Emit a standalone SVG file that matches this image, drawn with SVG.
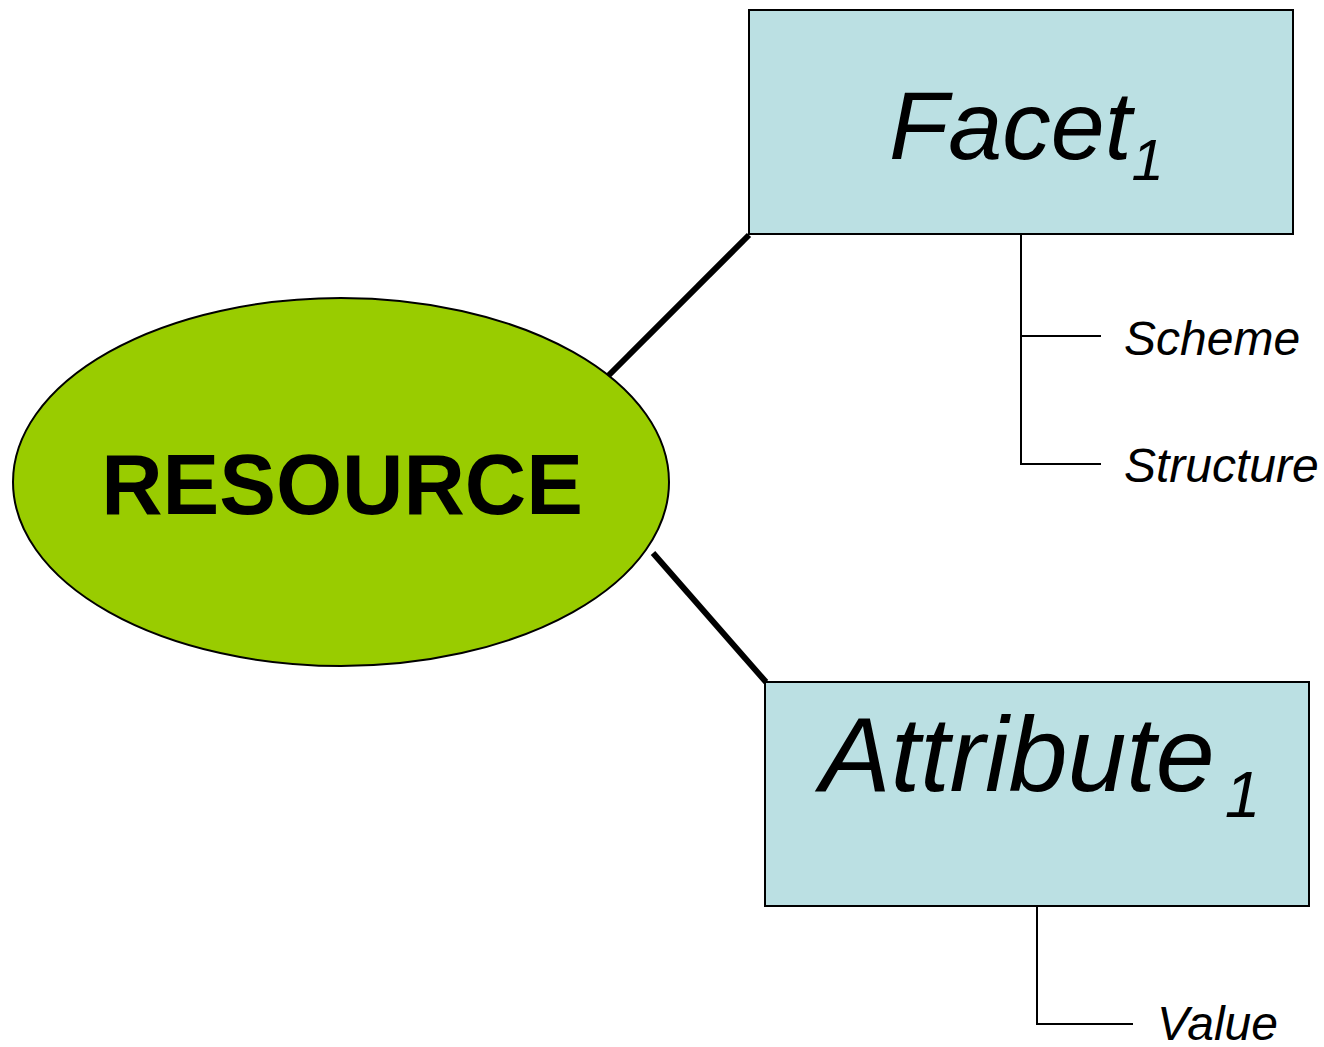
<svg xmlns="http://www.w3.org/2000/svg" width="1324" height="1047" viewBox="0 0 1324 1047">
<style>
.box{fill:#BBE0E3;stroke:#000;stroke-width:2}
.conn{stroke:#000;stroke-width:6;fill:none}
.tree{stroke:#000;stroke-width:2;fill:none}
.lbl{font-family:"Liberation Sans",Arial,sans-serif;font-style:italic;fill:#000}
</style>
<rect width="1324" height="1047" fill="#fff"/>
<g id="connectors">
<line class="conn" x1="607" y1="377" x2="749" y2="235"/>
<line class="conn" x1="653" y1="553" x2="766" y2="682"/>
<polyline class="tree" points="1021,234 1021,464 1101,464"/>
<line class="tree" x1="1021" y1="336" x2="1101" y2="336"/>
<polyline class="tree" points="1037,906 1037,1024 1133,1024"/>
</g>
<g id="resource">
<ellipse cx="341" cy="482" rx="328" ry="184" fill="#99CC00" stroke="#000" stroke-width="2"/>
<text x="342" y="514" text-anchor="middle" font-family="Liberation Sans,Arial,sans-serif" font-weight="bold" font-size="85">RESOURCE</text>
</g>
<g id="facet">
<rect class="box" x="749" y="10" width="544" height="224"/>
<text class="lbl" x="889" y="159" font-size="97">Facet<tspan font-size="58" y="180">1</tspan></text>
</g>
<g id="attribute">
<rect class="box" x="765" y="682" width="544" height="224"/>
<text class="lbl" x="820" y="791" font-size="106">Attribute<tspan font-size="64" dx="10" y="817">1</tspan></text>
</g>
<g id="scheme"><text class="lbl" x="1124" y="355" font-size="48">Scheme</text></g>
<g id="structure"><text class="lbl" x="1124" y="482" font-size="48">Structure</text></g>
<g id="value"><text class="lbl" x="1157" y="1040" font-size="48">Value</text></g>
</svg>
